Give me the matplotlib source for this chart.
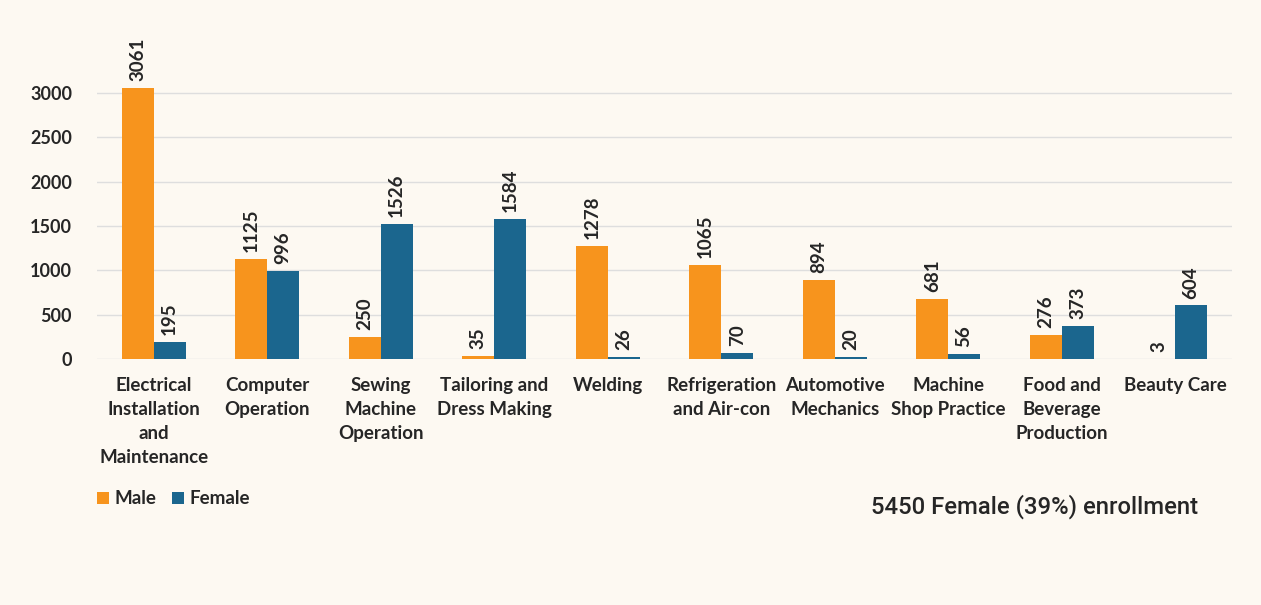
import matplotlib
matplotlib.use("Agg")
import matplotlib.pyplot as plt
import numpy as np

categories = ["Electrical\nInstallation\nand\nMaintenance", "Computer\nOperation", "Sewing\nMachine\nOperation",
              "Tailoring and\nDress Making", "Welding", "Refrigeration\nand Air-con", "Automotive\nMechanics",
              "Machine\nShop Practice", "Food and\nBeverage\nProduction", "Beauty Care"]
male = [3061, 1125, 250, 35, 1278, 1065, 894, 681, 276, 3]
female = [195, 996, 1526, 1584, 26, 70, 20, 56, 373, 604]
yticks = [0, 500, 1000, 1500, 2000, 2500, 3000]

BG = "#FDF9F2"
ORANGE = "#F7941D"
BLUE = "#1B668E"
TXT = "#262626"

plt.rcParams['font.family'] = ['Lato', 'DejaVu Sans']

W, H = 1261, 605
fig = plt.figure(figsize=(W/100, H/100), dpi=100, facecolor=BG)
ax_left, ax_right = 97, 1232
y0, ytop = 359, 40
ax = fig.add_axes([ax_left/W, 1 - y0/H, (ax_right-ax_left)/W, (y0-ytop)/H])
ax.set_facecolor(BG)

x = np.arange(len(categories))
bw = 0.28
b1 = ax.bar(x - bw/2, male, bw, color=ORANGE, label="Male", zorder=3)
b2 = ax.bar(x + bw/2, female, bw, color=BLUE, label="Female", zorder=3)

for bars, vals in ((b1, male), (b2, female)):
    for rect, v in zip(bars, vals):
        ax.annotate(str(v), (rect.get_x() + rect.get_width()/2, v), xytext=(0, 5),
                    textcoords="offset points", rotation=90, ha="center", va="bottom",
                    fontsize=13.5, fontweight="bold", color=TXT)

ax.set_xlim(-0.5, len(categories) - 0.5)
ax.set_ylim(0, 3600)
ax.set_yticks(yticks)
ax.set_yticklabels([str(t) for t in yticks], fontsize=13, fontweight="bold", color=TXT)
ax.set_xticks(x)
ax.set_xticklabels(categories, fontsize=13.5, fontweight="bold", color=TXT, linespacing=1.5, va="top")
ax.tick_params(axis="both", length=0)
ax.tick_params(axis="y", pad=18)
ax.tick_params(axis="x", pad=13)
for s in ax.spines.values():
    s.set_visible(False)
for t in yticks:
    ax.axhline(t, color="#DEDEDE", linewidth=1, zorder=1)

leg = fig.legend(handles=[b1, b2], labels=["Male", "Female"], loc="center left",
                 bbox_to_anchor=(97/W, 1 - 499/H), ncol=2, frameon=False,
                 prop={"family": "Lato", "weight": "bold", "size": 13.5},
                 borderpad=0, borderaxespad=0,
                 handlelength=0.65, handleheight=0.65, handletextpad=0.27, columnspacing=0.85)
for t in leg.get_texts():
    t.set_color(TXT)

fig.text(1198/W, 1 - 507/H, "5450 Female (39%) enrollment", ha="right", va="center",
         fontsize=17.2, family=["Roboto", "DejaVu Sans"], fontweight="medium", color=TXT)

fig.savefig("out.png", dpi=100, facecolor=BG)
